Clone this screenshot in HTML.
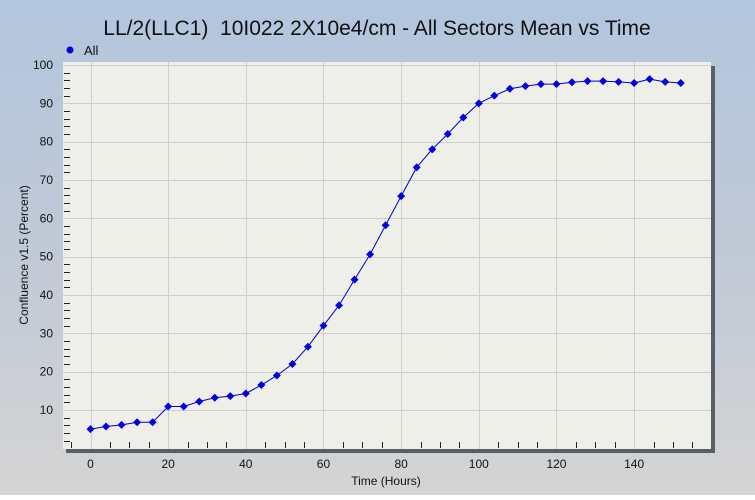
<!DOCTYPE html>
<html><head><style>
html,body{margin:0;padding:0;}
body{width:755px;height:495px;overflow:hidden;font-family:"Liberation Sans",sans-serif;}
</style></head><body>
<svg width="755" height="495" xmlns="http://www.w3.org/2000/svg" font-family="Liberation Sans, sans-serif">
<defs><linearGradient id="bg" x1="0" y1="0" x2="0" y2="1">
<stop offset="0" stop-color="#b3c6de"/><stop offset="0.5" stop-color="#c0c9d6"/><stop offset="1" stop-color="#d4d4d4"/></linearGradient></defs>
<rect width="755" height="495" fill="url(#bg)"/>
<text x="377" y="35" font-size="21" text-anchor="middle" fill="#111">LL/2(LLC1)&#160; 10I022 2X10e4/cm - All Sectors Mean vs Time</text>
<circle cx="70" cy="50" r="3.5" fill="#0000e0"/>
<text x="84" y="55" font-size="13" fill="#111">All</text>
<rect x="711" y="66" width="4" height="387" fill="#5a5e66"/>
<rect x="66" y="449" width="649" height="4" fill="#5a5e66"/>
<rect x="63" y="62" width="648" height="387" fill="#efefe9"/>
<g id="grid" stroke="#cfcfcb" stroke-width="1"></g>
<g id="ticks" stroke="#222" stroke-width="1"></g>
<g id="lab" font-size="12" fill="#111"></g>
<text x="386" y="485" font-size="12" text-anchor="middle" fill="#111">Time (Hours)</text>
<text transform="translate(28,255) rotate(-90)" font-size="12" text-anchor="middle" fill="#111">Confluence v1.5 (Percent)</text>
<polyline id="line" fill="none" stroke="#0000c8" stroke-width="1"/>
<g id="pts" fill="#0000e0"></g>
</svg>
<script>
var ns="http://www.w3.org/2000/svg";
function X(t){return 90.5+3.883*t;}
function Y(v){return 448.3-3.833*v;}
function el(p,n,a){var e=document.createElementNS(ns,n);for(var k in a)e.setAttribute(k,a[k]);document.getElementById(p).appendChild(e);return e;}
for(var t=0;t<=140;t+=20){var x=Math.round(X(t))+0.5;el("grid","line",{x1:x,x2:x,y1:62,y2:449});
var tx=el("lab","text",{x:X(t),y:468,"text-anchor":"middle"});tx.textContent=t;}
for(var v=10;v<=100;v+=10){var y=Math.round(Y(v))+0.5;el("grid","line",{x1:63,x2:711,y1:y,y2:y});
var ty=el("lab","text",{x:53,y:Y(v)+4,"text-anchor":"end"});ty.textContent=v;}
for(var t=-5;t<=155;t+=5){if(t%20==0)continue;var x=Math.round(X(t))+0.5;el("ticks","line",{x1:x,x2:x,y1:442,y2:448});}
for(var v=2;v<=100;v+=2){if(v%10==0)continue;var y=Math.round(Y(v))+0.5;el("ticks","line",{x1:64,x2:70,y1:y,y2:y});}
var d=[5,5.7,6.1,6.8,6.8,10.9,10.9,12.2,13.2,13.6,14.3,16.5,19,22,26.5,32,37.3,44,50.6,58.2,65.8,73.3,78,82,86.3,90,92,93.8,94.5,95,95,95.5,95.8,95.8,95.6,95.3,96.3,95.6,95.3];
var pts=[];for(var i=0;i<d.length;i++){var x=X(i*4),y=Y(d[i]);pts.push(x+","+y);
el("pts","polygon",{points:(x-4)+","+y+" "+x+","+(y-4)+" "+(x+4)+","+y+" "+x+","+(y+4)});}
document.getElementById("line").setAttribute("points",pts.join(" "));
</script>
</body></html>
